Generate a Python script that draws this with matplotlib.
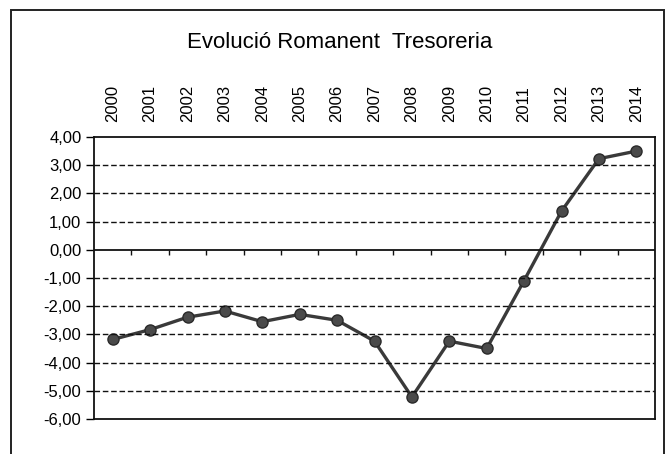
import numpy as np
import matplotlib.pyplot as plt
from matplotlib.patches import Rectangle
from matplotlib.ticker import FuncFormatter

# Dades del gràfic
anys = ['2000', '2001', '2002', '2003', '2004', '2005', '2006', '2007',
        '2008', '2009', '2010', '2011', '2012', '2013', '2014']
romanent = [-3.18, -2.83, -2.39, -2.17, -2.55, -2.29, -2.50, -3.24,
            -5.22, -3.24, -3.50, -1.09, 1.37, 3.23, 3.50]
y_ticks = [4, 3, 2, 1, 0, -1, -2, -3, -4, -5, -6]

plt.rcParams['font.family'] = ['Liberation Sans', 'DejaVu Sans']

fig = plt.figure(figsize=(6.67, 4.54), dpi=100)

# Marc exterior del gràfic
fig.patches.append(Rectangle((11 / 667, -0.05), 653 / 667, 1 - 10 / 454 + 0.05,
                             transform=fig.transFigure, fill=False,
                             edgecolor='#222222', linewidth=1.4))

ax = fig.add_axes([94 / 667, 1 - 419 / 454, 561 / 667, 282 / 454])

x = np.arange(len(anys))
ax.plot(x, romanent, color='#3a3a3a', linewidth=2.4, marker='o',
        markersize=8, markerfacecolor='#4a4a4a', markeredgecolor='#2a2a2a')

# Línies de graella discontínues
for v in y_ticks:
    if v == 0:
        ax.axhline(v, color='#111111', linewidth=1.3)
    elif v not in (4, -6):
        ax.axhline(v, color='#111111', linewidth=1.0, linestyle=(0, (4, 2)))

# Marques de categoria sobre l'eix zero
ax.vlines(np.arange(len(anys)) + 0.5, -0.2, 0, color='#111111', linewidth=1.0)

ax.set_xlim(-0.5, len(anys) - 0.5)
ax.set_ylim(-6, 4)
ax.set_yticks(y_ticks)
ax.yaxis.set_major_formatter(FuncFormatter(lambda v, p: f'{v:.2f}'.replace('.', ',')))
ax.tick_params(axis='y', direction='out', length=6, width=1, labelsize=12, pad=3)

ax.set_xticks(x)
ax.set_xticklabels(anys, rotation=90)
ax.xaxis.tick_top()
ax.tick_params(axis='x', length=0, labelsize=12, pad=11)

for s in ax.spines.values():
    s.set_linewidth(1.3)
    s.set_color('#111111')

fig.text(340 / 667, 1 - 42 / 454, 'Evolució Romanent  Tresoreria',
         ha='center', va='center', fontsize=16)

fig.savefig('out.png', dpi=100)
